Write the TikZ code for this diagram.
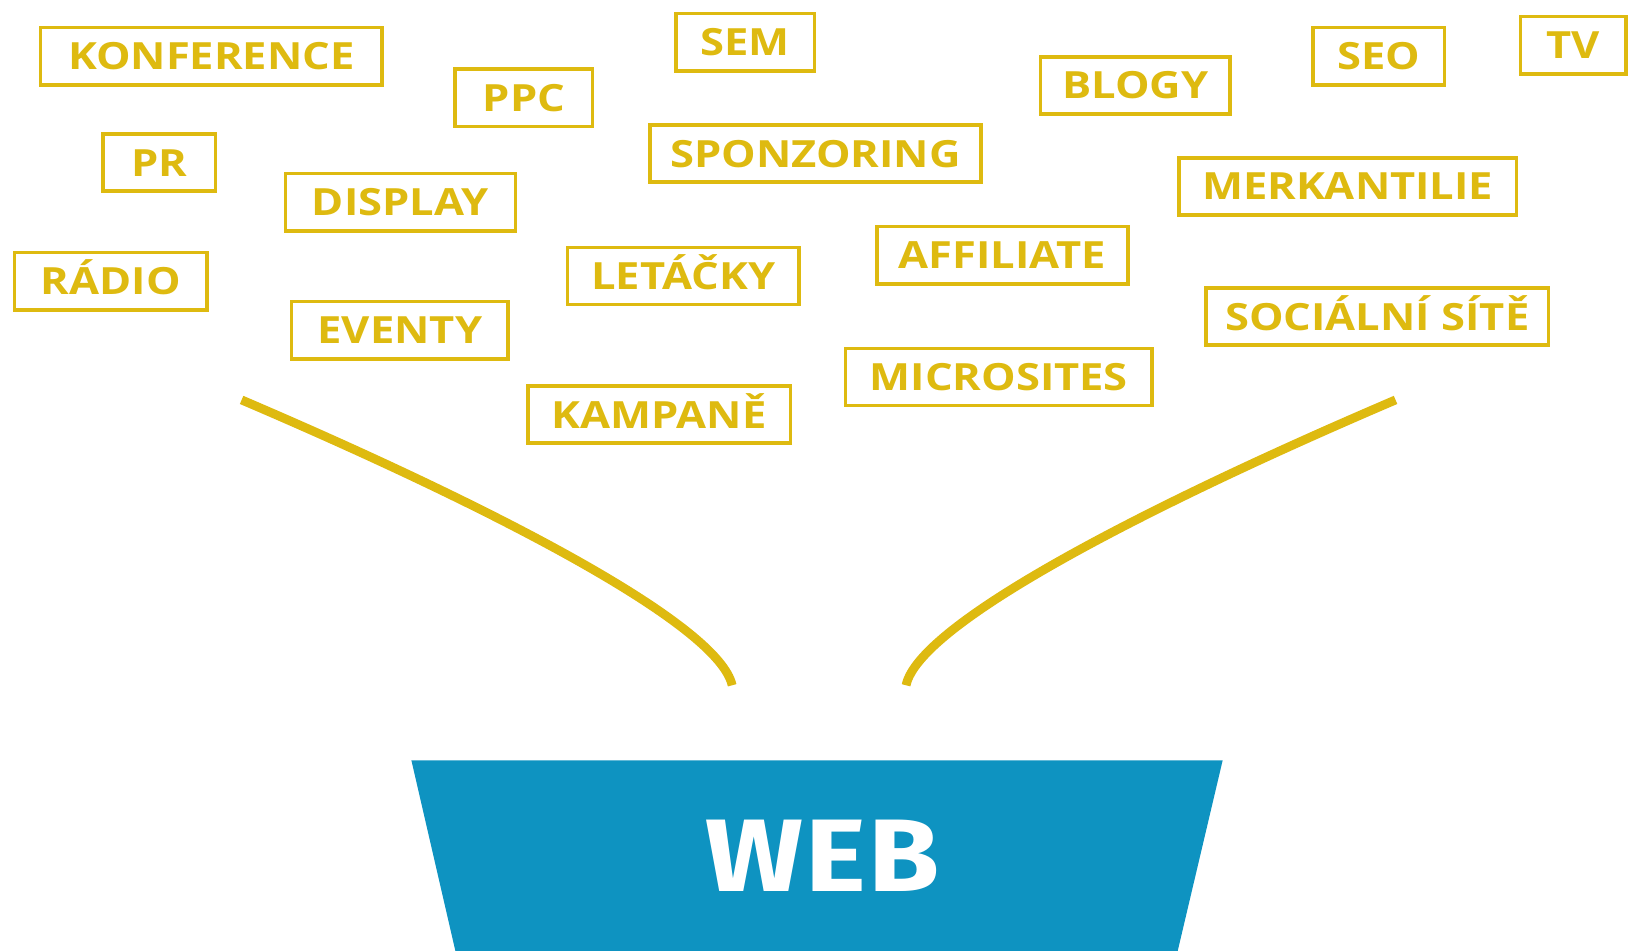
\documentclass[tikz,border=0pt]{standalone}
\usepackage{fontspec}
\setmainfont{Open Sans}
\newfontfamily\tagfont[FakeStretch=1.16]{Open Sans}
\newfontfamily\webfont[FakeStretch=1.12,LetterSpace=2]{Fira Sans}
\definecolor{gold}{RGB}{222,186,16}
\definecolor{webblue}{RGB}{14,147,193}
\begin{document}
\begin{tikzpicture}[x=1pt,y=-1pt,
  tag/.style={draw=gold, line width=3.5pt, text=gold, inner sep=0pt,
    minimum height=55pt, text height=26pt, text depth=0pt,
    font=\tagfont\fontsize{36}{38}\selectfont\bfseries},
  flow/.style={draw=gold, line width=8.5pt}]
\useasboundingbox (0,0) rectangle (1568,913);
\begin{scope}
\clip (0,0) rectangle (1568,913);
\fill[webblue] (395,730) -- (1174,730) -- (1128,925) -- (440,925) -- cycle;
\end{scope}
\node[text=white, inner sep=0pt, font=\webfont\fontsize{99}{100}\selectfont\bfseries] (web) at (790,822) {WEB};

\node[tag, minimum width=328pt] (konf) at (203,54) {KONFERENCE};
\node[tag, minimum width=132pt] (ppc) at (503,94) {PPC};
\node[tag, minimum width=133pt] (sem) at (715.5,40.5) {SEM};
\node[tag, minimum width=108pt] (pr) at (153,156) {PR};
\node[tag, minimum width=221pt] (display) at (384.5,194) {DISPLAY};
\node[tag, minimum width=318pt] (sponz) at (783,147.5) {SPONZORING};
\node[tag, minimum width=182pt] (blogy) at (1090,82) {BLOGY};
\node[tag, minimum width=126pt] (seo) at (1324,54) {SEO};
\node[tag, minimum width=101pt] (tv) at (1510.5,43.5) {TV};
\node[tag, minimum width=324pt] (merk) at (1294,179) {MERKANTILIE};
\node[tag, minimum width=241pt] (aff) at (962.5,245) {AFFILIATE};
\node[tag, minimum width=222pt] (let) at (656,265) {LETÁČKY};
\node[tag, minimum width=185pt] (radio) at (106.5,270) {RÁDIO};
\node[tag, minimum width=208pt] (eventy) at (384,317) {EVENTY};
\node[tag, minimum width=329pt] (soc) at (1322.5,304) {SOCIÁLNÍ SÍTĚ};
\node[tag, minimum width=294pt] (micro) at (959,362) {MICROSITES};
\node[tag, minimum width=252pt] (kamp) at (633,398) {KAMPANĚ};

\coordinate (l1) at (232,384);
\coordinate (l2) at (703,658);
\coordinate (r1) at (1340,384);
\coordinate (r2) at (870,658);
\draw[flow] (l1) .. controls (480,490) and (690,600) .. (l2);
\draw[flow] (r1) .. controls (1092,490) and (882,600) .. (r2);
\end{tikzpicture}
\end{document}
